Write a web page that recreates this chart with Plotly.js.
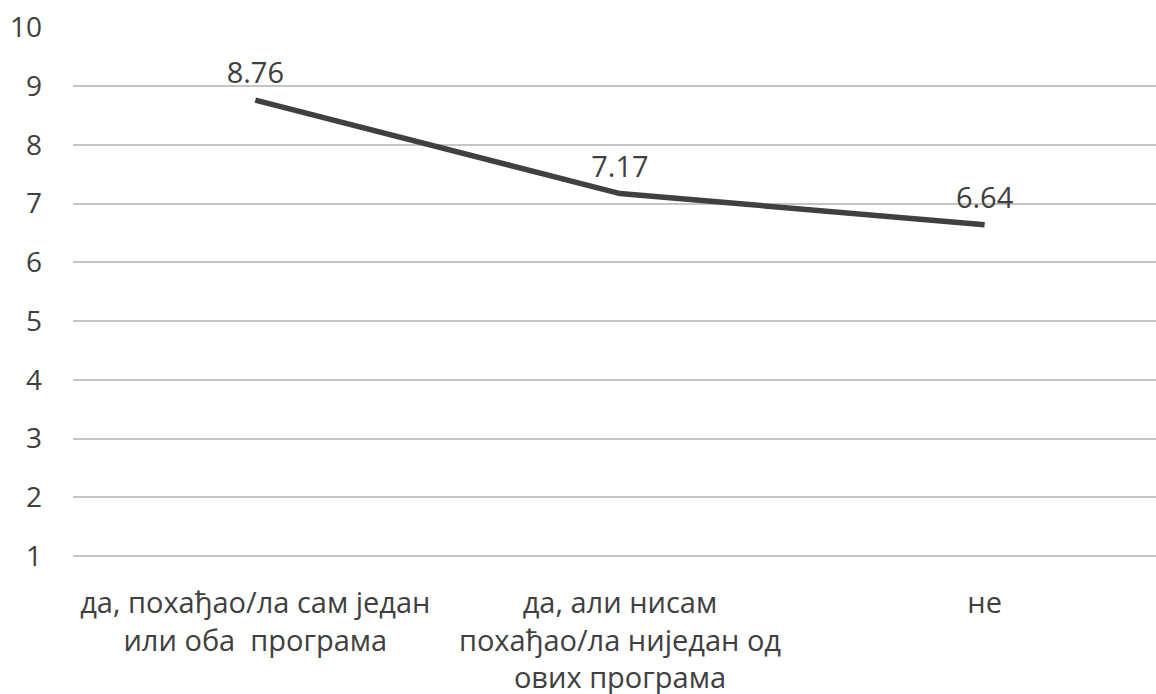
<!DOCTYPE html>
<html>
<head>
<meta charset="utf-8">
<script src="https://cdn.plot.ly/plotly-3.0.1.min.js"></script>
<style>html,body{margin:0;padding:0;background:#fff;}#chart{width:1156px;height:694px;}</style>
</head>
<body>
<div id="chart"></div>
<script>
const categories = [
  "да, похађао/ла сам један<br>или оба  програма",
  "да, али нисам<br>похађао/ла ниједан од<br>ових програма",
  "не"
];
const values = [8.76, 7.17, 6.64];
const valueLabels = ["8.76", "7.17", "6.64"];
const yTicks = [1, 2, 3, 4, 5, 6, 7, 8, 9, 10];

const trace = {
  type: "scatter",
  mode: "lines+markers+text",
  x: [0, 1, 2],
  y: values,
  text: valueLabels,
  textposition: "top center",
  textfont: {family: "Open Sans", size: 29, color: "#404040"},
  line: {color: "#404040", width: 5.5},
  marker: {size: 14, color: "rgba(0,0,0,0)"},
  cliponaxis: false,
  hoverinfo: "none"
};

const layout = {
  width: 1156, height: 694,
  margin: {l: 73, r: 0, t: 27, b: 135},
  paper_bgcolor: "#ffffff", plot_bgcolor: "#ffffff",
  showlegend: false,
  font: {family: "Open Sans", size: 28, color: "#404040"},
  xaxis: {
    range: [-0.5, 2.47],
    tickmode: "array", tickvals: [0, 1, 2], ticktext: categories,
    showgrid: false, zeroline: false, showline: false, ticks: "",
    tickfont: {family: "Open Sans", size: 29, color: "#404040"},
    ticklabelstandoff: 24
  },
  yaxis: {
    range: [0.95, 10.005],
    tickmode: "array", tickvals: yTicks,
    showgrid: true, gridcolor: "#c4c4c4", gridwidth: 2,
    zeroline: false, showline: false, ticks: "",
    tickfont: {family: "Open Sans", size: 28, color: "#404040"},
    ticklabelstandoff: 30
  }
};

Plotly.newPlot("chart", [trace], layout, {displayModeBar: false, staticPlot: true});
</script>
</body>
</html>
